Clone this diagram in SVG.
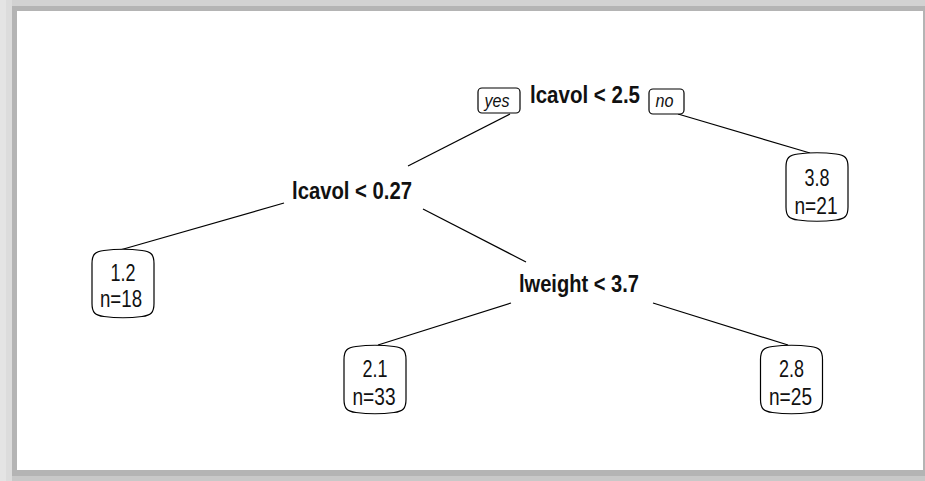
<svg xmlns="http://www.w3.org/2000/svg" xmlns:xlink="http://www.w3.org/1999/xlink" width="925" height="481" viewBox="0 0 925 481">
  <style>
    .split { font-family: "Liberation Sans", Arial, sans-serif; font-weight: bold; font-size: 24px; fill: #111; text-anchor: middle; }
    .leaf  { font-family: "Liberation Sans", Arial, sans-serif; font-size: 23px; fill: #111; text-anchor: middle; }
    .tag   { font-family: "Liberation Sans", Arial, sans-serif; font-style: italic; font-size: 18px; fill: #111; text-anchor: middle; }
    .tagbox { fill: #fff; stroke: #000; stroke-width: 1.2; }
    .leafbox { fill: #fff; stroke: #000; stroke-width: 1.2; }
    .edge { stroke: #000; stroke-width: 1.2; fill: none; }
  </style>
  <defs>
    <!-- leaf outline: straight sides, softly bowed top and bottom -->
    <path id="leafShape" d="M -31,-20 C -31,-29 -28,-32 -19,-33 Q 0,-35.5 19,-33 C 28,-32 31,-29 31,-20 L 31,20 C 31,29 28,32 19,33 Q 0,35.5 -19,33 C -28,32 -31,29 -31,20 Z"/>
  </defs>

  <!-- frame with drop shadow -->
  <rect x="0" y="0" width="925" height="481" fill="#d2d2d2"/>
  <rect x="0" y="0" width="12" height="481" fill="#e4e4e4"/>
  <rect x="6" y="0" width="6" height="481" fill="#dcdcdc"/>
  <rect x="12" y="6" width="913" height="470" fill="#b4b4b4"/>
  <rect x="12" y="476" width="913" height="5" fill="#c8c8c8"/>
  <rect x="17" y="11" width="906" height="459" fill="#ffffff"/>

  <g id="connectors">
    <line class="edge" x1="510" y1="114" x2="408" y2="166"/>
    <line class="edge" x1="678" y1="114" x2="810" y2="153"/>
    <line class="edge" x1="284" y1="203" x2="120" y2="250"/>
    <line class="edge" x1="423" y1="209" x2="526" y2="262"/>
    <line class="edge" x1="511" y1="303" x2="378" y2="345"/>
    <line class="edge" x1="653" y1="303" x2="788" y2="345"/>
  </g>

  <g id="node-root">
    <text class="split" x="585" y="103" textLength="110" lengthAdjust="spacingAndGlyphs">lcavol &lt; 2.5</text>
    <g id="tag-yes">
      <rect class="tagbox" x="478" y="88" width="42" height="25" rx="4"/>
      <text class="tag" x="497" y="107" textLength="25" lengthAdjust="spacingAndGlyphs">yes</text>
    </g>
    <g id="tag-no">
      <rect class="tagbox" x="649" y="89" width="35" height="25" rx="4"/>
      <text class="tag" x="664.5" y="107" textLength="18" lengthAdjust="spacingAndGlyphs">no</text>
    </g>
  </g>

  <g id="node-lcavol-027">
    <text class="split" x="352" y="199" textLength="120" lengthAdjust="spacingAndGlyphs">lcavol &lt; 0.27</text>
  </g>

  <g id="node-lweight">
    <text class="split" x="579" y="292" textLength="120" lengthAdjust="spacingAndGlyphs">lweight &lt; 3.7</text>
  </g>

  <g id="leaf-38">
    <use href="#leafShape" xlink:href="#leafShape" class="leafbox" x="817" y="187"/>
    <text class="leaf" x="817" y="186" textLength="25" lengthAdjust="spacingAndGlyphs">3.8</text>
    <text class="leaf" x="816" y="214" textLength="43" lengthAdjust="spacingAndGlyphs">n=21</text>
  </g>

  <g id="leaf-12">
    <use href="#leafShape" xlink:href="#leafShape" class="leafbox" x="123" y="283.5"/>
    <text class="leaf" x="123" y="281" textLength="25" lengthAdjust="spacingAndGlyphs">1.2</text>
    <text class="leaf" x="121" y="307" textLength="42" lengthAdjust="spacingAndGlyphs">n=18</text>
  </g>

  <g id="leaf-21">
    <use href="#leafShape" xlink:href="#leafShape" class="leafbox" x="375" y="379.5"/>
    <text class="leaf" x="375" y="377" textLength="25" lengthAdjust="spacingAndGlyphs">2.1</text>
    <text class="leaf" x="374" y="405" textLength="43" lengthAdjust="spacingAndGlyphs">n=33</text>
  </g>

  <g id="leaf-28">
    <use href="#leafShape" xlink:href="#leafShape" class="leafbox" x="791.5" y="379.5"/>
    <text class="leaf" x="791.5" y="377" textLength="25" lengthAdjust="spacingAndGlyphs">2.8</text>
    <text class="leaf" x="790.5" y="405" textLength="43" lengthAdjust="spacingAndGlyphs">n=25</text>
  </g>
</svg>
